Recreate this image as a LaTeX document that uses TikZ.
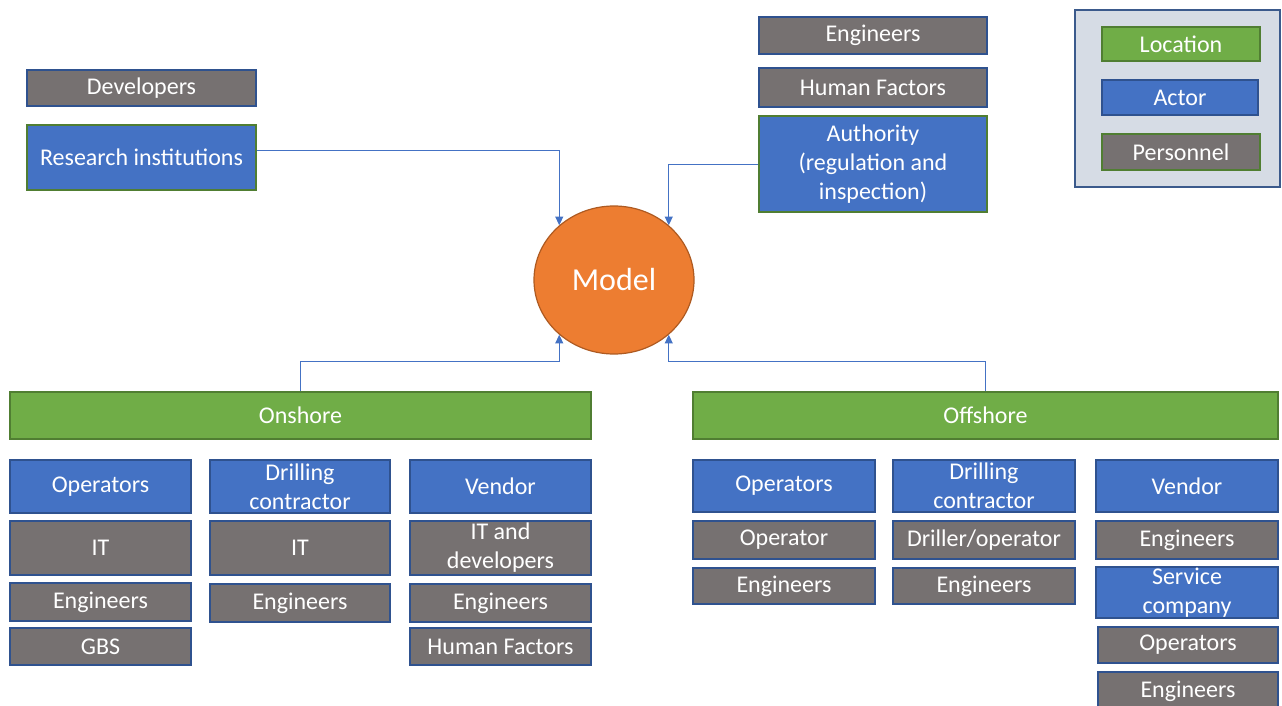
\documentclass[tikz,border=0pt]{standalone}
\usepackage{fontspec}
\setmainfont{Carlito}
\usetikzlibrary{positioning,shapes.geometric,arrows.meta,calc}
\definecolor{actorblue}{HTML}{4472C4}
\definecolor{actorline}{HTML}{2F528F}
\definecolor{persgray}{HTML}{767171}
\definecolor{locgreen}{HTML}{70AD47}
\definecolor{locline}{HTML}{507E32}
\definecolor{modelorange}{HTML}{ED7D31}
\definecolor{modelline}{HTML}{AE5A21}
\definecolor{legendfill}{HTML}{D6DCE5}
\definecolor{legendline}{HTML}{3B5A8C}
\tikzset{
box/.style 2 args={
  draw,
  line width=0.9pt,
  text=white,
  inner sep=0pt,
  align=center,
  minimum width=#1*0.75pt,
  minimum height=#2*0.75pt,
  font=\fontsize{18}{21.75}\selectfont
},
location/.style={fill=locgreen,draw=locline},
actor/.style={fill=actorblue,draw=actorline},
personnel/.style={fill=persgray,draw=actorline},
modelnode/.style={
  ellipse,
  draw=modelline,
  fill=modelorange,
  line width=0.9pt,
  text=white,
  minimum width=120pt,
  minimum height=111pt,
  font=\fontsize{24}{29}\selectfont
},
legendbox/.style={fill=legendfill,draw=legendline,line width=1pt},
conn/.style={draw=actorblue,line width=0.7pt,-{Triangle[width=6pt,length=6.5pt]}}
}

\begin{document}
\begin{tikzpicture}[x=0.75pt,y=-0.75pt]
  \useasboundingbox (0,0) rectangle (1282,706);

  \node[modelnode] (model) at (614,280) {Model};

  % top left
  \node[box={229}{36},personnel] (dev) at (141.5,88) {Developers};
  \node[box={229}{65},actor,draw=locline] (res) at (141.5,157.5) {Research institutions};

  % top right
  \node[box={228}{37},personnel] (eng0) at (873,35.5) {Engineers};
  \node[box={228}{39},personnel] (hf0) at (873,87.5) {Human Factors};
  \node[box={228}{96},actor,draw=locline] (auth) at (873,164) {Authority\\(regulation and\\inspection)};

  % legend
  \draw[legendbox] (1075,10) rectangle (1280,187);
  \node[box={158}{34},location] (legloc) at (1181,44) {Location};
  \node[box={156}{35},actor] (legact) at (1180,97.5) {Actor};
  \node[box={158}{36},personnel,draw=locline] (legpers) at (1181,152) {Personnel};

  % onshore
  \node[box={581}{47},location] (onshore) at (300.5,415.5) {Onshore};
  \node[box={181}{53},actor] (onop) at (100.5,486.5) {Operators};
  \node[box={180}{53},actor] (ondrill) at (300,486.5) {Drilling\\contractor};
  \node[box={181}{53},actor] (onvend) at (500.5,486.5) {Vendor};
  \node[box={181}{54},personnel] (onopit) at (100.5,548) {IT};
  \node[box={180}{54},personnel] (ondrillit) at (300,548) {IT};
  \node[box={181}{54},personnel] (onvendit) at (500.5,548) {IT and\\developers};
  \node[box={181}{38},personnel] (onopeng) at (100.5,602) {Engineers};
  \node[box={180}{38},personnel] (ondrilleng) at (300,603) {Engineers};
  \node[box={181}{38},personnel] (onvendeng) at (500.5,603) {Engineers};
  \node[box={181}{37},personnel] (onopgbs) at (100.5,646.5) {GBS};
  \node[box={181}{37},personnel] (onvendhf) at (500.5,646.5) {Human Factors};

  % offshore
  \node[box={585}{47},location] (offshore) at (985.5,415.5) {Offshore};
  \node[box={182}{52},actor] (offop) at (784,486) {Operators};
  \node[box={182}{52},actor] (offdrill) at (984,486) {Drilling\\contractor};
  \node[box={182}{52},actor] (offvend) at (1187,486) {Vendor};
  \node[box={182}{38},personnel] (offopop) at (784,540) {Operator};
  \node[box={182}{38},personnel] (offdrillop) at (984,540) {Driller/operator};
  \node[box={182}{38},personnel] (offvendeng) at (1187,540) {Engineers};
  \node[box={182}{36},personnel] (offopeng) at (784,586) {Engineers};
  \node[box={182}{36},personnel] (offdrilleng) at (984,586) {Engineers};
  \node[box={182}{51},actor] (offserv) at (1187,592.5) {Service\\company};
  \node[box={180}{36},personnel] (offservop) at (1188,645) {Operators};
  \node[box={180}{38},personnel] (offserveng) at (1188,691) {Engineers};

  % connectors
  \draw[conn] ($(res.east)+(0,-7)$) -| (model.135);
  \draw[conn] (auth.west) -| (model.45);
  \draw[conn] (onshore.north) -- ++(0,-30) -| (model.225);
  \draw[conn] (offshore.north) -- ++(0,-30) -| (model.315);
\end{tikzpicture}
\end{document}
